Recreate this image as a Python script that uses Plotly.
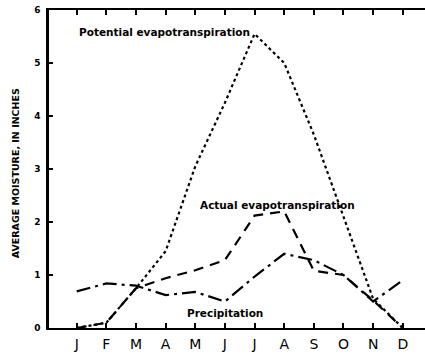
import plotly.graph_objects as go

months = ["J", "F", "M", "A", "M", "J", "J", "A", "S", "O", "N", "D"]
month_pos = list(range(1, 13))

potential = [0.0, 0.1, 0.75, 1.45, 3.05, 4.25, 5.55, 5.0, 3.65, 2.1, 0.55, 0.0]
actual = [0.0, 0.1, 0.75, 0.94, 1.09, 1.28, 2.12, 2.2, 1.08, 1.0, 0.52, 0.0]
precip = [0.69, 0.84, 0.8, 0.62, 0.68, 0.5, 0.97, 1.4, 1.28, 1.0, 0.5, 0.9]

y_ticks = [0, 1, 2, 3, 4, 5, 6]

fig = go.Figure()
fig.add_trace(go.Scatter(x=month_pos, y=potential, mode="lines",
                         line=dict(color="black", width=2.2, dash="3px,3px"),
                         name="Potential evapotranspiration"))
fig.add_trace(go.Scatter(x=month_pos, y=actual, mode="lines",
                         line=dict(color="black", width=2.2, dash="10px,7px"),
                         name="Actual evapotranspiration"))
fig.add_trace(go.Scatter(x=month_pos, y=precip, mode="lines",
                         line=dict(color="black", width=2.2, dash="14px,5px,3px,5px"),
                         name="Precipitation"))

lab_font = dict(family="DejaVu Sans", size=10.5, color="black")
fig.add_annotation(x=6.9, y=5.58, text="<b>Potential evapotranspiration</b>",
                   showarrow=False, xanchor="right", yanchor="middle", font=lab_font)
fig.add_annotation(x=7.76, y=2.32, text="<b>Actual evapotranspiration</b>",
                   showarrow=False, xanchor="center", yanchor="middle", font=lab_font)
fig.add_annotation(x=6.0, y=0.28, text="<b>Precipitation</b>",
                   showarrow=False, xanchor="center", yanchor="middle", font=lab_font)
fig.add_annotation(xref="paper", yref="paper", x=-0.09, y=0.487,
                   text="<b>AVERAGE MOISTURE, IN INCHES</b>", textangle=-90,
                   showarrow=False, xanchor="center", yanchor="middle",
                   font=dict(family="DejaVu Sans", size=9.5, color="black"))

fig.update_layout(
    width=425, height=355,
    margin=dict(l=49, r=0, t=10, b=27, autoexpand=False),
    paper_bgcolor="white", plot_bgcolor="white",
    showlegend=False,
    hovermode=False,
    xaxis=dict(range=[0.065, 12.75], tickvals=month_pos, ticktext=months,
               showgrid=False, zeroline=False, showline=True, linecolor="black",
               linewidth=2, mirror="ticks", ticks="inside", ticklen=5, tickwidth=1.5,
               tickcolor="black", ticklabelstandoff=2,
               tickfont=dict(family="DejaVu Sans", size=14, color="black")),
    yaxis=dict(range=[0, 6], tickvals=y_ticks,
               showgrid=False, zeroline=False, showline=True, linecolor="black",
               linewidth=2.5, ticks="inside", ticklen=4, tickwidth=1.5,
               tickcolor="black", ticklabelstandoff=4,
               tickfont=dict(family="DejaVu Sans", size=9, color="black",
                             weight="bold")),
)

fig.write_html("out.html",
               config={"displayModeBar": False},
               post_script="document.body.style.margin='0';document.body.style.overflow='hidden';")
